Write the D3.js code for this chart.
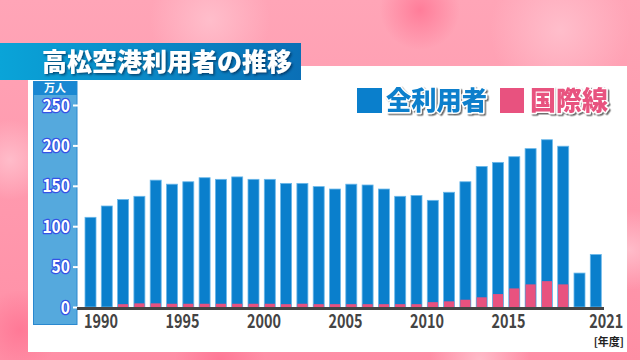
<!DOCTYPE html>
<html>
<head>
<meta charset="utf-8">
<script src="https://cdn.jsdelivr.net/npm/d3@7"></script>
<style>
  html, body { margin: 0; padding: 0; background: #fda0b4; }
  svg { display: block; }
  text { font-family: "Noto Sans CJK JP", "Noto Sans", sans-serif; }
</style>
</head>
<body>
<svg id="chart" width="640" height="360"></svg>
<script>
// data (万人, by fiscal year)
var years = d3.range(1990, 2022);
var totalUsers = [111, 125, 133, 137, 157, 152, 155, 160, 158, 161,
                  158, 158, 153, 153, 149, 146, 152, 151, 146, 137,
                  138, 132, 142, 155, 174, 179, 186, 196, 207, 199,
                  42, 65];
var intlUsers = [0, 0, 3.5, 4.5, 4.5, 4, 4, 4, 4, 4,
                 4, 4, 3.5, 4, 3.5, 3.5, 3.5, 3.5, 3.5, 3.5,
                 3.5, 6, 7, 9, 12, 16, 23, 28, 32, 28,
                 0, 0];
var yTicks = [0, 50, 100, 150, 200, 250];
var xLabelYears = [1990, 1995, 2000, 2005, 2010, 2015, 2021];
var titleText = "高松空港利用者の推移";
var legendNames = ["全利用者", "国際線"];

var BLUE = "#0a7fcc", PINK = "#e8527f";

var svg = d3.select("#chart");
var defs = svg.append("defs");

// background gradient + bokeh
var bg = defs.append("linearGradient").attr("id", "bg").attr("x1", 0).attr("y1", 0).attr("x2", 0).attr("y2", 1);
bg.append("stop").attr("offset", 0).attr("stop-color", "#ffa5b7");
bg.append("stop").attr("offset", 1).attr("stop-color", "#ff8fa6");
var bokehLight = defs.append("radialGradient").attr("id", "bokehLight");
bokehLight.append("stop").attr("offset", 0).attr("stop-color", "#ffc4d0").attr("stop-opacity", 0.8);
bokehLight.append("stop").attr("offset", 1).attr("stop-color", "#ffc4d0").attr("stop-opacity", 0);
var bokehDark = defs.append("radialGradient").attr("id", "bokehDark");
bokehDark.append("stop").attr("offset", 0).attr("stop-color", "#ff7392").attr("stop-opacity", 0.8);
bokehDark.append("stop").attr("offset", 1).attr("stop-color", "#ff7392").attr("stop-opacity", 0);

svg.append("rect").attr("width", 640).attr("height", 360).attr("fill", "url(#bg)");
var bokeh = [[210, 20, 60, "bokehLight"], [420, 10, 40, "bokehDark"], [560, 30, 70, "bokehLight"],
             [10, 160, 40, "bokehLight"], [220, 360, 45, "bokehDark"], [630, 250, 40, "bokehLight"],
             [20, 330, 40, "bokehDark"], [480, 360, 50, "bokehLight"]];
svg.selectAll(".bokeh").data(bokeh).join("circle")
    .attr("class", "bokeh")
    .attr("cx", d => d[0]).attr("cy", d => d[1]).attr("r", d => d[2])
    .attr("fill", d => "url(#" + d[3] + ")");

// filters
var sh = defs.append("filter").attr("id", "titleShadow").attr("x", "-10%").attr("y", "-30%").attr("width", "120%").attr("height", "160%");
sh.append("feDropShadow").attr("dx", 1.5).attr("dy", 1.5).attr("stdDeviation", 0.8)
    .attr("flood-color", "#002a50").attr("flood-opacity", 0.75);
var sh2 = defs.append("filter").attr("id", "legendShadow").attr("x", "-10%").attr("y", "-30%").attr("width", "120%").attr("height", "160%");
sh2.append("feDropShadow").attr("dx", 1.5).attr("dy", 1.5).attr("stdDeviation", 0.6)
    .attr("flood-color", "#555").attr("flood-opacity", 0.85);

// white panel
svg.append("rect").attr("x", 28).attr("y", 66).attr("width", 599).attr("height", 286).attr("fill", "#fff");

// title bar
var tg = defs.append("linearGradient").attr("id", "titleGrad");
tg.append("stop").attr("offset", 0).attr("stop-color", "#0aa4d8");
tg.append("stop").attr("offset", 1).attr("stop-color", "#0a6fb6");
svg.append("rect").attr("x", 0).attr("y", 43).attr("width", 301).attr("height", 37).attr("fill", "url(#titleGrad)");
svg.append("text")
    .attr("x", 42).attr("y", 71)
    .attr("fill", "#fff").attr("font-size", 25).attr("font-weight", 900)
    .attr("filter", "url(#titleShadow)")
    .attr("textLength", 250).attr("lengthAdjust", "spacingAndGlyphs")
    .text(titleText);

// scales
var x = d3.scaleBand(years, [85, 601.3]).paddingInner(0.325).paddingOuter(0);
var y = d3.scaleLinear([0, 250], [307, 105]);

// y-axis band
svg.append("rect").attr("x", 33.5).attr("y", 81.5).attr("width", 43.5).attr("height", 243)
    .attr("fill", "#55a9dd").attr("stroke", "#2a88cf").attr("stroke-width", 1);
svg.append("rect").attr("x", 33.5).attr("y", 81.5).attr("width", 43.5).attr("height", 13.5)
    .attr("fill", "#1a88d2");
svg.append("text").attr("x", 55).attr("y", 91.5)
    .attr("text-anchor", "middle").attr("fill", "#fff").attr("font-size", 11).attr("font-weight", 700)
    .text("万人");

var yAxis = svg.append("g")
    .attr("transform", "translate(78,0)")
    .call(d3.axisLeft(y).tickValues(yTicks).tickSize(5).tickPadding(3));
yAxis.select(".domain").remove();
yAxis.selectAll(".tick line").attr("stroke", "#fff").attr("stroke-width", 2);
yAxis.selectAll(".tick text")
    .attr("fill", "#fff").attr("stroke", "#3552e6").attr("stroke-width", 2.5)
    .attr("paint-order", "stroke").attr("stroke-linejoin", "round")
    .attr("font-family", "Roboto, sans-serif").attr("font-weight", 700).attr("font-size", 17)
    .attr("dy", "0.36em")
    .attr("textLength", d => String(d).length * 9.2).attr("lengthAdjust", "spacingAndGlyphs");

// bars
svg.append("g").selectAll("rect").data(years).join("rect")
    .attr("x", d => x(d)).attr("width", x.bandwidth())
    .attr("y", (d, i) => y(totalUsers[i])).attr("height", (d, i) => y(0) - y(totalUsers[i]))
    .attr("fill", BLUE).attr("stroke", "#6bb8ea").attr("stroke-width", 0.8);
svg.append("g").selectAll("rect").data(years).join("rect")
    .attr("x", d => x(d) + 0.4).attr("width", x.bandwidth() - 0.8)
    .attr("y", (d, i) => y(intlUsers[i])).attr("height", (d, i) => y(0) - y(intlUsers[i]))
    .attr("fill", PINK);

// baseline
svg.append("rect").attr("x", 77).attr("y", 307).attr("width", 527).attr("height", 3).attr("fill", "#444");

// x-axis labels (left edge aligned to bar)
var xAxis = svg.append("g")
    .attr("transform", "translate(0,310)")
    .call(d3.axisBottom(x).tickValues(xLabelYears).tickSize(0).tickPadding(4));
xAxis.select(".domain").remove();
xAxis.selectAll(".tick text")
    .attr("text-anchor", "start")
    .attr("x", -x.bandwidth() / 2 - 1)
    .attr("dy", "0.71em")
    .attr("fill", "#444").attr("font-family", "Roboto, sans-serif")
    .attr("font-weight", 700).attr("font-size", 19)
    .attr("textLength", 34).attr("lengthAdjust", "spacingAndGlyphs");
svg.append("text").attr("x", 624).attr("y", 346)
    .attr("text-anchor", "end").attr("fill", "#222").attr("font-size", 11).attr("font-weight", 700)
    .text("[年度]");

// legend
var legend = [{name: legendNames[0], color: BLUE, x: 357, w: 25, tx: 386, tw: 101},
              {name: legendNames[1], color: PINK, x: 500, w: 24, tx: 530, tw: 78}];
var lg = svg.append("g").selectAll("g").data(legend).join("g");
lg.append("rect").attr("x", d => d.x).attr("y", 88).attr("width", d => d.w).attr("height", 25)
    .attr("fill", d => d.color);
lg.append("text")
    .attr("x", d => d.tx).attr("y", 110)
    .attr("fill", d => d.color).attr("stroke", "#fff").attr("stroke-width", 3)
    .attr("paint-order", "stroke").attr("stroke-linejoin", "round")
    .attr("font-size", 26).attr("font-weight", 900)
    .attr("filter", "url(#legendShadow)")
    .attr("textLength", d => d.tw).attr("lengthAdjust", "spacingAndGlyphs")
    .text(d => d.name);
</script>
</body>
</html>
